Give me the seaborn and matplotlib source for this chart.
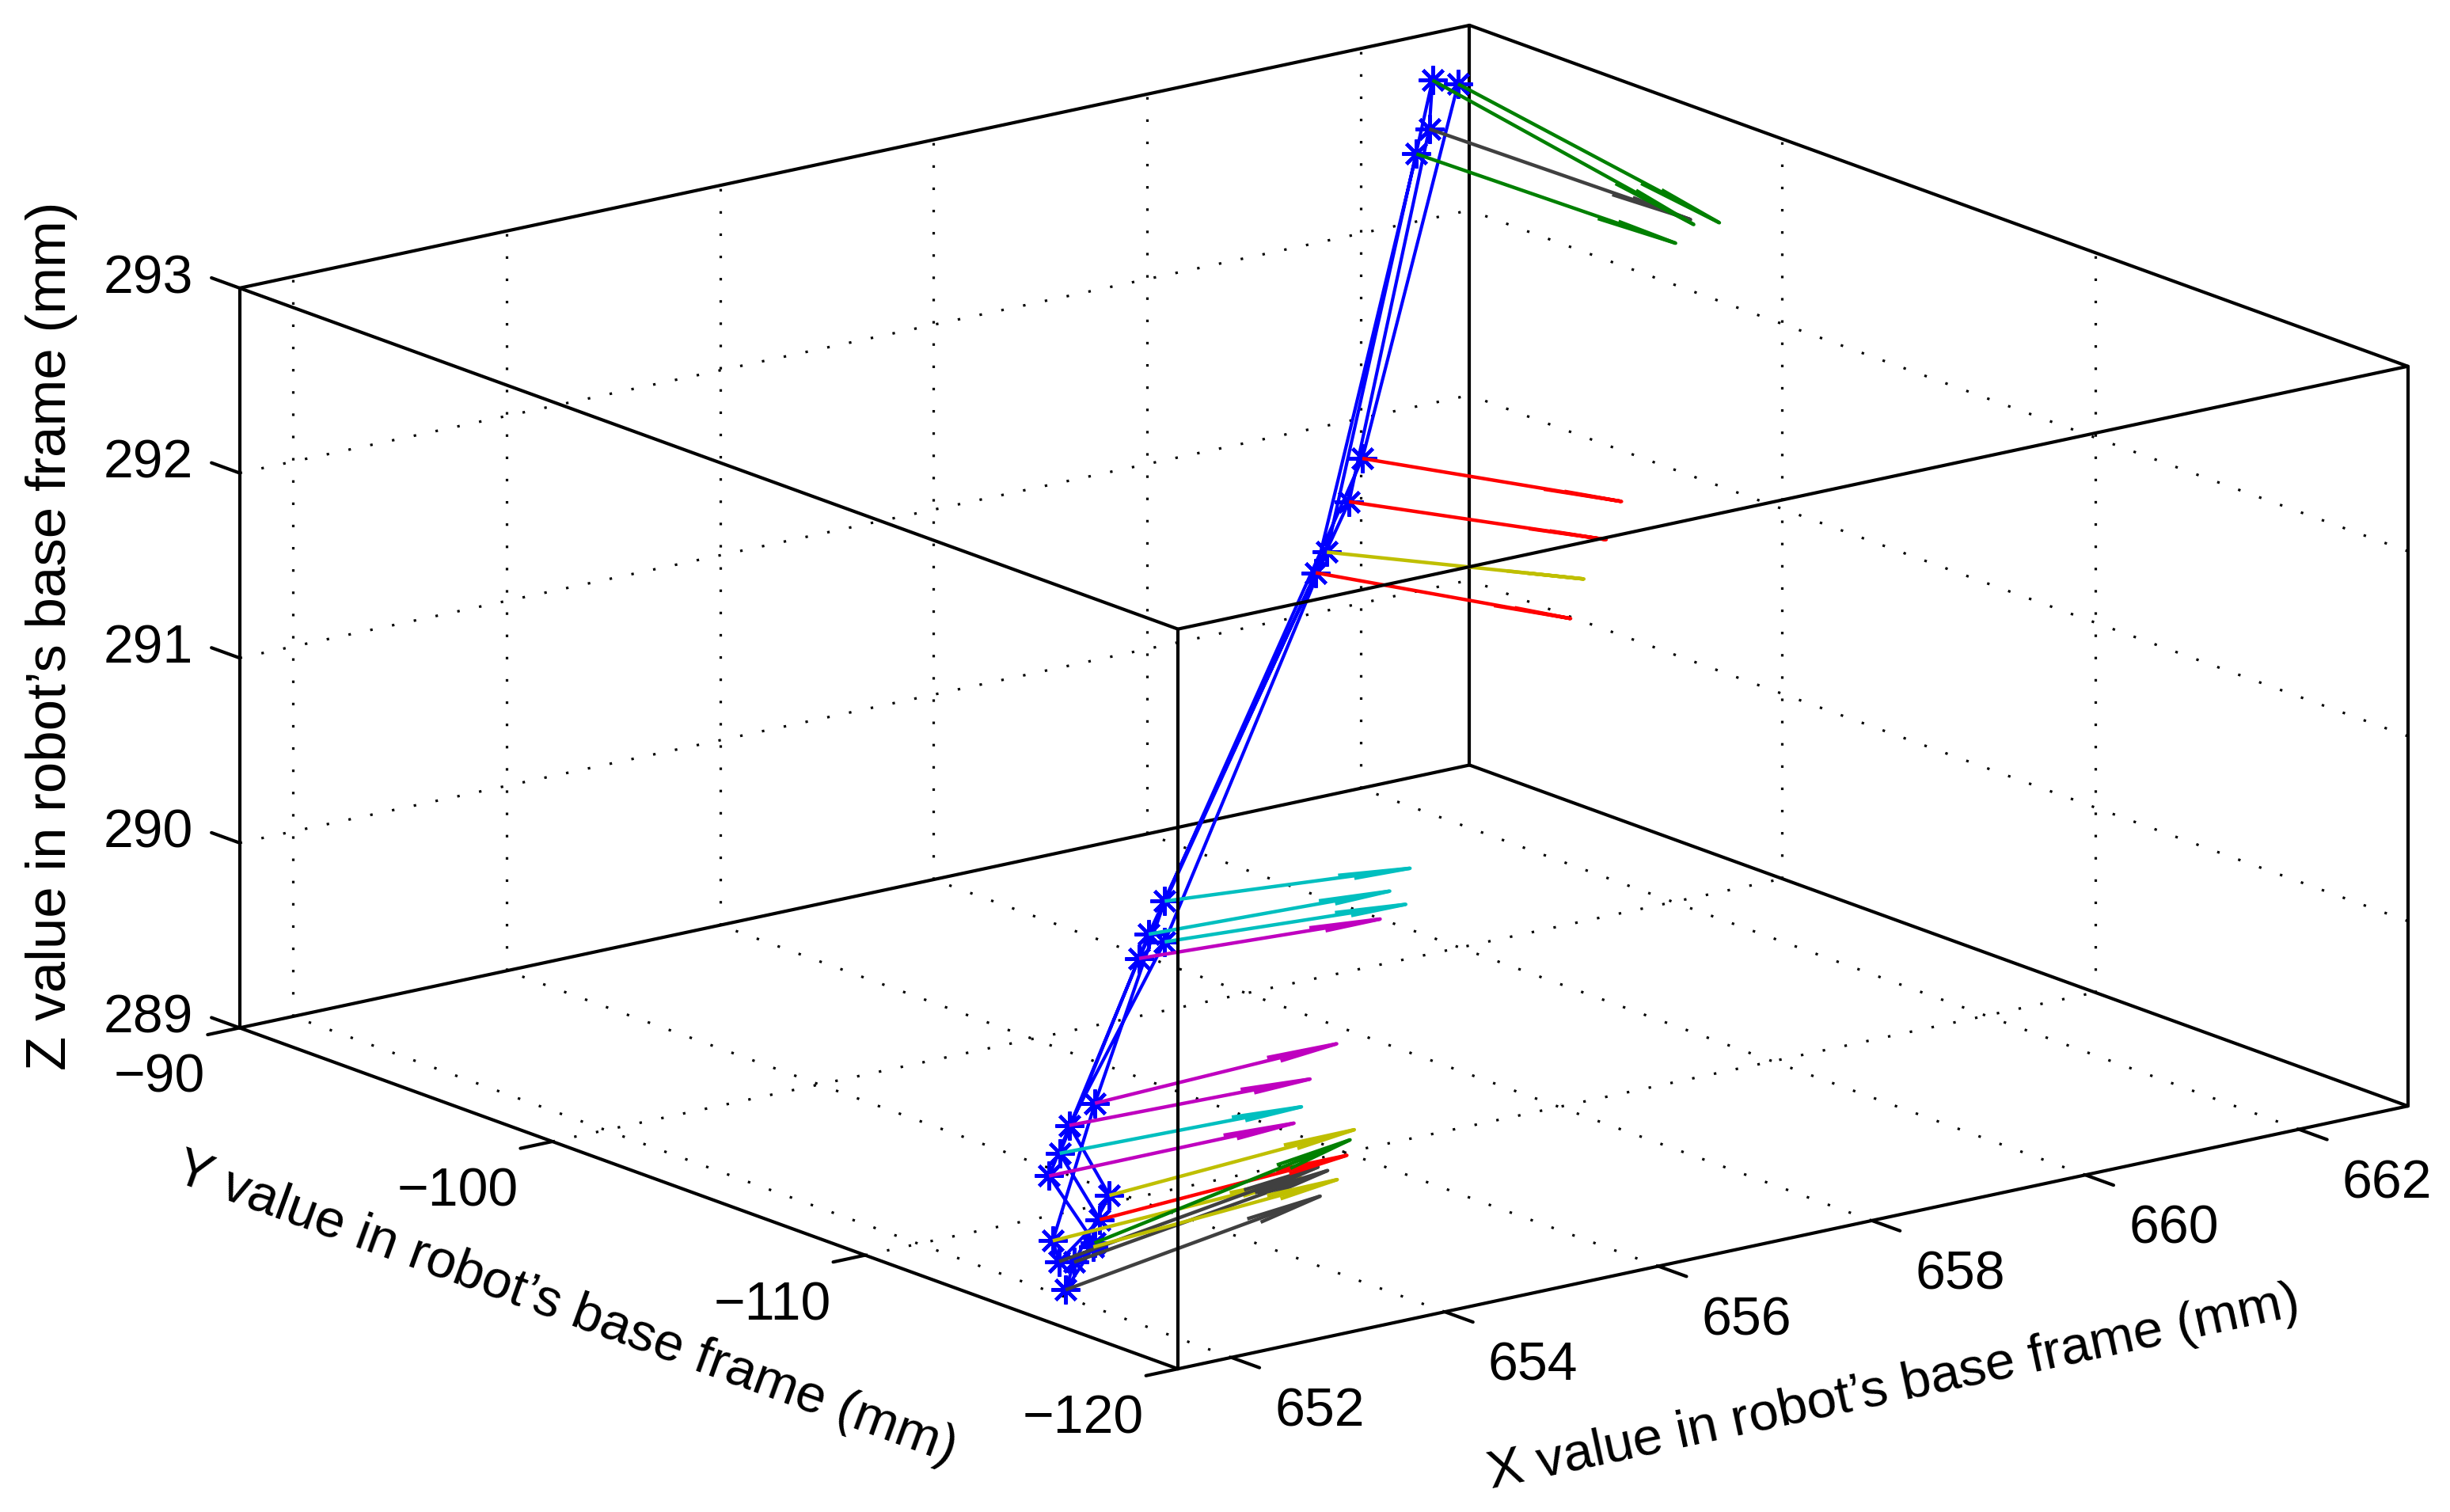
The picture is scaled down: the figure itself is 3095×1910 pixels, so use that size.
import numpy as np
import matplotlib
matplotlib.use('Agg')
import matplotlib.pyplot as plt
import seaborn as sns
from mpl_toolkits.mplot3d import proj3d

# path points along the trajectory (mm)
X = [662.21, 659.38, 654.54, 652.92, 651.91, 651.97, 652.35, 652.59, 654.39, 659.08, 661.94, 661.97, 658.52, 654.54, 652.68, 652.44, 652.11, 652.03, 652.29, 652.30, 652.49, 654.30, 658.24, 661.82]
Y = [-92.4, -99.0, -109.2, -112.5, -114.6, -114.6, -114.6, -112.5, -109.2, -99.6, -92.4, -92.4, -100.8, -109.2, -112.5, -114.6, -114.6, -114.6, -114.6, -114.6, -112.5, -109.2, -101.4, -92.4]
Z = [292.93, 291.66, 290.49, 289.8, 289.31, 289.19, 289.37, 289.57, 290.33, 291.5, 292.72, 292.98, 291.37, 290.27, 289.71, 289.49, 289.17, 289.03, 289.23, 289.25, 289.46, 290.21, 291.33, 292.6]
# arrow vector at each point
U = [0.25, 0.23, 0.54, 0.77, 0.83, 0.93, 0.82, 0.77, 0.5, 0.21, 0.25, 0.25, 0.21, 0.5, 0.76, 0.8, 0.88, 0.89, 0.79, 0.9, 0.8, 0.5, 0.19, 0.23]
V = [-7.5, -7.5, -6.0, -5.1, -5.1, -5.1, -5.1, -5.1, -6.0, -7.5, -7.5, -7.5, -7.5, -6.0, -5.1, -5.1, -5.1, -5.1, -5.1, -5.1, -5.1, -6.0, -7.5, -7.5]
W = [-0.32, 0.2, 0.48, 0.54, 0.55, 0.71, 0.56, 0.47, 0.54, 0.23, -0.06, -0.35, 0.29, 0.51, 0.47, 0.57, 0.7, 0.71, 0.58, 0.76, 0.5, 0.52, 0.19, -0.05]
arrow_colors = ['g', 'r', 'c', 'm', 'y', 'k', 'r', 'c', 'c', 'r', 'k', 'g', 'y', 'c', 'm', 'y', 'k', 'k', 'y', 'g', 'm', 'm', 'r', 'g']

x_ticks = [652, 654, 656, 658, 660, 662]
y_ticks = [-90, -100, -110, -120]
z_ticks = [289, 290, 291, 292, 293]
x_lim = (651.5, 663.02)
y_lim = (-120, -90)
z_lim = (289, 293)
x_title = 'X value in robot\u2019s base frame (mm)'
y_title = 'Y value in robot\u2019s base frame (mm)'
z_title = 'Z value in robot\u2019s base frame (mm)'

sns.set_theme(style='white')
plt.rcParams['font.family'] = ['Liberation Sans', 'DejaVu Sans']
plt.rcParams['text.color'] = 'black'
pal = dict(zip('bgrcmyk', sns.color_palette(['#0000ff', '#008000', '#ff0000', '#00bfbf', '#bf00bf', '#bfbf00', '#404040'])))

W_PX, H_PX = 3095, 1910
fig = plt.figure(figsize=(W_PX / 100, H_PX / 100), dpi=100, facecolor='white')
ax = fig.add_axes([0, 0, 1, 1], projection='3d', proj_type='ortho', computed_zorder=False)
ax.set_box_aspect((1, 0.995, 0.497))
ax.view_init(elev=16.18, azim=-127.48)
ax.set_xlim(*x_lim, view_margin=0)
ax.set_ylim(*y_lim, view_margin=0)
ax.set_zlim(*z_lim, view_margin=0)
ax.set_axis_off()
ax.patch.set_alpha(0)

x0, x1 = x_lim
y0, y1 = y_lim
z0, z1 = z_lim
LW = 3.0


def seg(xs, ys, zs, z=5, lw=LW, **kw):
    kw.setdefault('color', 'black')
    ax.plot(xs, ys, zs, lw=lw, zorder=z, solid_capstyle='round', **kw)


# box outline: back edges sit under the data, the rest on top
seg([x1, x1], [y1, y1], [z0, z1], z=1)
seg([x0, x1], [y1, y1], [z0, z0], z=1)
seg([x1, x1], [y0, y1], [z0, z0], z=1)
seg([x0, x0], [y0, y0], [z0, z1])
seg([x0, x0], [y1, y1], [z0, z1])
seg([x1, x1], [y0, y0], [z0, z1])
seg([x0, x1], [y0, y0], [z0, z0])
seg([x0, x0], [y0, y1], [z0, z0])
seg([x0, x1], [y0, y0], [z1, z1])
seg([x0, x0], [y0, y1], [z1, z1])
seg([x0, x1], [y1, y1], [z1, z1])
seg([x1, x1], [y0, y1], [z1, z1])

# dotted grid on the floor and the two back walls
dots = dict(color='black', lw=2.3, ls=(0, (1, 7.8)), zorder=1, dash_capstyle='butt')
for t in x_ticks:
    ax.plot([t, t], [y0, y1], [z0, z0], **dots)
    ax.plot([t, t], [y1, y1], [z0, z1], **dots)
for t in y_ticks[1:-1]:
    ax.plot([x0, x1], [t, t], [z0, z0], **dots)
    ax.plot([x1, x1], [t, t], [z0, z1], **dots)
for t in z_ticks[1:-1]:
    ax.plot([x0, x1], [y1, y1], [t, t], **dots)
    ax.plot([x1, x1], [y0, y1], [t, t], **dots)

# ticks and their labels
font = 49
dx = x1 - x0
dy = y1 - y0
dz = z1 - z0
for t in x_ticks:
    seg([t, t], [y0, y0 - 0.03 * dy], [z0, z0])
    ax.text(t, y0 - 0.094 * dy, z0 - 0.03 * dz, str(t), fontsize=font, ha='center', va='center')
for t in y_ticks:
    seg([x0, x0 - 0.026 * dx], [t, t], [z0, z0])
    ax.text(x0 - 0.028 * dx, t, z0 - 0.058 * dz, '\u2212' + str(-t), fontsize=font, ha='right', va='center')
for t in z_ticks:
    seg([x0, x0], [y1, y1 + 0.03 * dy], [t, t])
    ax.text(x0, y1 + 0.097 * dy, t - 0.032 * dz, str(t), fontsize=font, ha='center', va='center')

# trajectory
ax.plot(X, Y, Z, color=pal['b'], lw=3.0, marker=(8, 2, 0), ms=26, mew=3.2, zorder=3)

# quiver arrows, drawn shaft then barbed head
alpha, beta = 0.26, 0.05
for i in range(len(X)):
    tx, ty, tz = X[i] + U[i], Y[i] + V[i], Z[i] + W[i]
    c = pal[arrow_colors[i]]
    ax.plot([X[i], tx], [Y[i], ty], [Z[i], tz], color=c, lw=3.2, zorder=4, solid_capstyle='butt')
    tilt = 0.018 + 0.036 * max(-W[i], 0)
    hx = [tx - alpha * (U[i] + beta * V[i]), tx, tx - alpha * (U[i] - beta * V[i])]
    hy = [ty - alpha * (V[i] - beta * U[i]), ty, ty - alpha * (V[i] + beta * U[i])]
    hz = [tz - alpha * W[i] - tilt, tz, tz - alpha * W[i] + tilt]
    ax.plot(hx, hy, hz, color=c, lw=3.2, zorder=4, solid_capstyle='butt')

fig.text(1212 / 1568, 1 - 889 / 968, x_title, fontsize=48.5, rotation=12.1, ha='center', va='center', rotation_mode='anchor')
fig.text(362 / 1568, 1 - 838 / 968, y_title, fontsize=48.5, rotation=-20, ha='center', va='center', rotation_mode='anchor')
fig.text(33 / 1568, 1 - 407 / 968, z_title, fontsize=51, rotation=90, ha='center', va='center', rotation_mode='anchor')

# fit the projected box onto the frame of the original
fig.canvas.draw()


def to_px(p):
    xs, ys, _ = proj3d.proj_transform(p[0], p[1], p[2], ax.get_proj())
    return ax.transData.transform((xs, ys))


left = to_px((x0, y1, z0))
right = to_px((x1, y0, z0))
pos = ax.get_position().frozen()
side = pos.width * W_PX
cx = (pos.x0 + pos.width / 2) * W_PX
cy = (pos.y0 + pos.height / 2) * H_PX
s = 2739.0 / (right[0] - left[0])
mid = (left + right) / 2
off = mid - np.array([cx, cy])
target = np.array([1672.2, H_PX - 1347.8])
new_c = target - off * s
new_side = side * s
ax.set_position([(new_c[0] - new_side / 2) / W_PX, (new_c[1] - new_side / 2) / H_PX, new_side / W_PX, new_side / H_PX])

fig.savefig('out.png', dpi=100, facecolor='white')
